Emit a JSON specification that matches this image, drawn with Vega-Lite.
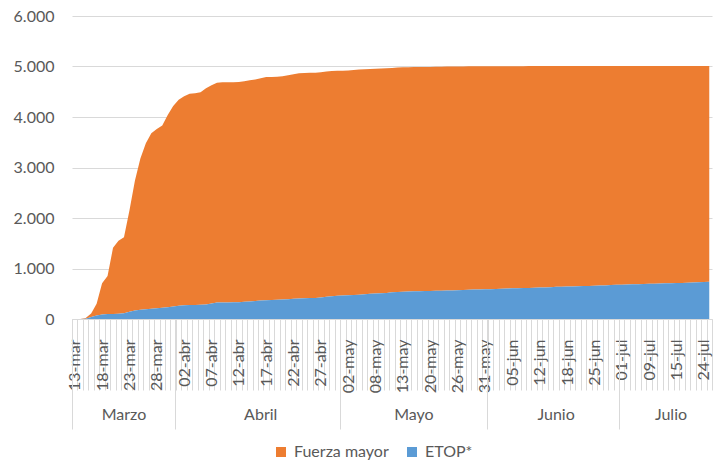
{
  "$schema": "https://vega.github.io/schema/vega-lite/v6.json",
  "width": 640,
  "height": 303,
  "autosize": {"type": "none"},
  "padding": {"left": 72, "top": 16, "right": 1, "bottom": 146},
  "background": "white",
  "data": {"values": [
    {"fecha": "13-mar", "Fuerza mayor": 0, "ETOP*": 0},
    {"fecha": "14-mar", "Fuerza mayor": 0, "ETOP*": 0},
    {"fecha": "15-mar", "Fuerza mayor": 15, "ETOP*": 5},
    {"fecha": "16-mar", "Fuerza mayor": 70, "ETOP*": 40},
    {"fecha": "17-mar", "Fuerza mayor": 230, "ETOP*": 70},
    {"fecha": "18-mar", "Fuerza mayor": 620, "ETOP*": 90},
    {"fecha": "19-mar", "Fuerza mayor": 750, "ETOP*": 100},
    {"fecha": "20-mar", "Fuerza mayor": 1310, "ETOP*": 100},
    {"fecha": "21-mar", "Fuerza mayor": 1445, "ETOP*": 105},
    {"fecha": "22-mar", "Fuerza mayor": 1505, "ETOP*": 115},
    {"fecha": "23-mar", "Fuerza mayor": 2005, "ETOP*": 145},
    {"fecha": "24-mar", "Fuerza mayor": 2570, "ETOP*": 170},
    {"fecha": "25-mar", "Fuerza mayor": 2998, "ETOP*": 182},
    {"fecha": "26-mar", "Fuerza mayor": 3285, "ETOP*": 195},
    {"fecha": "27-mar", "Fuerza mayor": 3475, "ETOP*": 205},
    {"fecha": "28-mar", "Fuerza mayor": 3545, "ETOP*": 215},
    {"fecha": "29-mar", "Fuerza mayor": 3608, "ETOP*": 222},
    {"fecha": "30-mar", "Fuerza mayor": 3805, "ETOP*": 235},
    {"fecha": "31-mar", "Fuerza mayor": 3970, "ETOP*": 250},
    {"fecha": "01-abr", "Fuerza mayor": 4078, "ETOP*": 262},
    {"fecha": "02-abr", "Fuerza mayor": 4138, "ETOP*": 272},
    {"fecha": "03-abr", "Fuerza mayor": 4184, "ETOP*": 276},
    {"fecha": "04-abr", "Fuerza mayor": 4192, "ETOP*": 278},
    {"fecha": "05-abr", "Fuerza mayor": 4209, "ETOP*": 281},
    {"fecha": "06-abr", "Fuerza mayor": 4282, "ETOP*": 288},
    {"fecha": "07-abr", "Fuerza mayor": 4322, "ETOP*": 308},
    {"fecha": "08-abr", "Fuerza mayor": 4355, "ETOP*": 325},
    {"fecha": "09-abr", "Fuerza mayor": 4363, "ETOP*": 327},
    {"fecha": "10-abr", "Fuerza mayor": 4361, "ETOP*": 329},
    {"fecha": "11-abr", "Fuerza mayor": 4359, "ETOP*": 331},
    {"fecha": "12-abr", "Fuerza mayor": 4361, "ETOP*": 334},
    {"fecha": "13-abr", "Fuerza mayor": 4370, "ETOP*": 340},
    {"fecha": "14-abr", "Fuerza mayor": 4384, "ETOP*": 346},
    {"fecha": "15-abr", "Fuerza mayor": 4389, "ETOP*": 356},
    {"fecha": "16-abr", "Fuerza mayor": 4399, "ETOP*": 366},
    {"fecha": "17-abr", "Fuerza mayor": 4418, "ETOP*": 372},
    {"fecha": "18-abr", "Fuerza mayor": 4414, "ETOP*": 378},
    {"fecha": "19-abr", "Fuerza mayor": 4414, "ETOP*": 381},
    {"fecha": "20-abr", "Fuerza mayor": 4419, "ETOP*": 386},
    {"fecha": "21-abr", "Fuerza mayor": 4433, "ETOP*": 392},
    {"fecha": "22-abr", "Fuerza mayor": 4446, "ETOP*": 399},
    {"fecha": "23-abr", "Fuerza mayor": 4459, "ETOP*": 406},
    {"fecha": "24-abr", "Fuerza mayor": 4461, "ETOP*": 411},
    {"fecha": "25-abr", "Fuerza mayor": 4460, "ETOP*": 414},
    {"fecha": "26-abr", "Fuerza mayor": 4458, "ETOP*": 418},
    {"fecha": "27-abr", "Fuerza mayor": 4458, "ETOP*": 427},
    {"fecha": "28-abr", "Fuerza mayor": 4458, "ETOP*": 442},
    {"fecha": "29-abr", "Fuerza mayor": 4458, "ETOP*": 452},
    {"fecha": "30-abr", "Fuerza mayor": 4455, "ETOP*": 460},
    {"fecha": "01-may", "Fuerza mayor": 4454, "ETOP*": 463},
    {"fecha": "02-may", "Fuerza mayor": 4452, "ETOP*": 468},
    {"fecha": "04-may", "Fuerza mayor": 4457, "ETOP*": 473},
    {"fecha": "05-may", "Fuerza mayor": 4459, "ETOP*": 481},
    {"fecha": "06-may", "Fuerza mayor": 4456, "ETOP*": 490},
    {"fecha": "07-may", "Fuerza mayor": 4453, "ETOP*": 499},
    {"fecha": "08-may", "Fuerza mayor": 4452, "ETOP*": 505},
    {"fecha": "09-may", "Fuerza mayor": 4450, "ETOP*": 510},
    {"fecha": "10-may", "Fuerza mayor": 4446, "ETOP*": 517},
    {"fecha": "11-may", "Fuerza mayor": 4444, "ETOP*": 528},
    {"fecha": "12-may", "Fuerza mayor": 4441, "ETOP*": 537},
    {"fecha": "13-may", "Fuerza mayor": 4441, "ETOP*": 542},
    {"fecha": "14-may", "Fuerza mayor": 4441, "ETOP*": 545},
    {"fecha": "15-may", "Fuerza mayor": 4440, "ETOP*": 548},
    {"fecha": "18-may", "Fuerza mayor": 4439, "ETOP*": 551},
    {"fecha": "19-may", "Fuerza mayor": 4438, "ETOP*": 553},
    {"fecha": "20-may", "Fuerza mayor": 4437, "ETOP*": 555},
    {"fecha": "21-may", "Fuerza mayor": 4436, "ETOP*": 557},
    {"fecha": "22-may", "Fuerza mayor": 4434, "ETOP*": 560},
    {"fecha": "23-may", "Fuerza mayor": 4437, "ETOP*": 563},
    {"fecha": "25-may", "Fuerza mayor": 4434, "ETOP*": 566},
    {"fecha": "26-may", "Fuerza mayor": 4432, "ETOP*": 569},
    {"fecha": "27-may", "Fuerza mayor": 4428, "ETOP*": 574},
    {"fecha": "28-may", "Fuerza mayor": 4425, "ETOP*": 578},
    {"fecha": "29-may", "Fuerza mayor": 4421, "ETOP*": 582},
    {"fecha": "30-may", "Fuerza mayor": 4419, "ETOP*": 585},
    {"fecha": "31-may", "Fuerza mayor": 4416, "ETOP*": 588},
    {"fecha": "01-jun", "Fuerza mayor": 4414, "ETOP*": 591},
    {"fecha": "02-jun", "Fuerza mayor": 4409, "ETOP*": 596},
    {"fecha": "03-jun", "Fuerza mayor": 4406, "ETOP*": 600},
    {"fecha": "04-jun", "Fuerza mayor": 4402, "ETOP*": 604},
    {"fecha": "05-jun", "Fuerza mayor": 4400, "ETOP*": 607},
    {"fecha": "08-jun", "Fuerza mayor": 4397, "ETOP*": 610},
    {"fecha": "09-jun", "Fuerza mayor": 4394, "ETOP*": 613},
    {"fecha": "10-jun", "Fuerza mayor": 4392, "ETOP*": 616},
    {"fecha": "11-jun", "Fuerza mayor": 4388, "ETOP*": 620},
    {"fecha": "12-jun", "Fuerza mayor": 4385, "ETOP*": 623},
    {"fecha": "13-jun", "Fuerza mayor": 4382, "ETOP*": 626},
    {"fecha": "15-jun", "Fuerza mayor": 4379, "ETOP*": 630},
    {"fecha": "16-jun", "Fuerza mayor": 4371, "ETOP*": 638},
    {"fecha": "17-jun", "Fuerza mayor": 4368, "ETOP*": 641},
    {"fecha": "18-jun", "Fuerza mayor": 4365, "ETOP*": 644},
    {"fecha": "19-jun", "Fuerza mayor": 4364, "ETOP*": 646},
    {"fecha": "22-jun", "Fuerza mayor": 4361, "ETOP*": 649},
    {"fecha": "23-jun", "Fuerza mayor": 4358, "ETOP*": 652},
    {"fecha": "24-jun", "Fuerza mayor": 4355, "ETOP*": 655},
    {"fecha": "25-jun", "Fuerza mayor": 4352, "ETOP*": 658},
    {"fecha": "26-jun", "Fuerza mayor": 4349, "ETOP*": 661},
    {"fecha": "27-jun", "Fuerza mayor": 4345, "ETOP*": 665},
    {"fecha": "29-jun", "Fuerza mayor": 4338, "ETOP*": 672},
    {"fecha": "30-jun", "Fuerza mayor": 4334, "ETOP*": 676},
    {"fecha": "01-jul", "Fuerza mayor": 4330, "ETOP*": 680},
    {"fecha": "02-jul", "Fuerza mayor": 4327, "ETOP*": 683},
    {"fecha": "06-jul", "Fuerza mayor": 4323, "ETOP*": 687},
    {"fecha": "07-jul", "Fuerza mayor": 4320, "ETOP*": 690},
    {"fecha": "08-jul", "Fuerza mayor": 4316, "ETOP*": 694},
    {"fecha": "09-jul", "Fuerza mayor": 4313, "ETOP*": 697},
    {"fecha": "10-jul", "Fuerza mayor": 4310, "ETOP*": 700},
    {"fecha": "11-jul", "Fuerza mayor": 4307, "ETOP*": 703},
    {"fecha": "13-jul", "Fuerza mayor": 4304, "ETOP*": 706},
    {"fecha": "14-jul", "Fuerza mayor": 4301, "ETOP*": 709},
    {"fecha": "15-jul", "Fuerza mayor": 4298, "ETOP*": 712},
    {"fecha": "16-jul", "Fuerza mayor": 4295, "ETOP*": 715},
    {"fecha": "17-jul", "Fuerza mayor": 4292, "ETOP*": 718},
    {"fecha": "20-jul", "Fuerza mayor": 4288, "ETOP*": 722},
    {"fecha": "23-jul", "Fuerza mayor": 4281, "ETOP*": 729},
    {"fecha": "24-jul", "Fuerza mayor": 4277, "ETOP*": 733},
    {"fecha": "27-jul", "Fuerza mayor": 4274, "ETOP*": 736}
  ]},
  "transform": [{"fold": ["Fuerza mayor", "ETOP*"], "as": ["serie", "valor"]}],
  "layer": [
    {
      "mark": {"type": "area", "interpolate": "linear", "opacity": 1},
      "encoding": {
        "x": {
          "field": "fecha", "type": "ordinal", "sort": null, "bandPosition": 0.5,
          "scale": {"type": "band", "paddingInner": 0, "paddingOuter": 0},
          "axis": {
            "orient": "bottom", "title": null,
            "tickBand": "extent", "ticks": true, "tickSize": 71, "tickColor": "#D9D9D9", "tickWidth": 1,
            "domain": true, "domainColor": "#D9D9D9", "domainWidth": 1,
            "grid": false,
            "labelAngle": 270, "labelAlign": "right", "labelBaseline": "middle", "labelPadding": -51,
            "labelOverlap": false, "labelBound": false, "labelFlush": false,
            "labelFont": "Lato", "labelFontSize": 16, "labelColor": "#595959",
            "labelExpr": "indexof(['13-mar','18-mar','23-mar','28-mar','02-abr','07-abr','12-abr','17-abr','22-abr','27-abr','02-may','08-may','13-may','20-may','26-may','31-may','05-jun','12-jun','18-jun','25-jun','01-jul','09-jul','15-jul','24-jul'], datum.value) >= 0 ? datum.value : ''"
          }
        },
        "y": {
          "field": "valor", "type": "quantitative", "stack": "zero",
          "scale": {"domain": [0, 6000], "nice": false},
          "axis": {
            "title": null, "values": [0, 1000, 2000, 3000, 4000, 5000, 6000],
            "labelExpr": "replace(format(datum.value, ','), ',', '.')",
            "grid": true, "gridColor": "#D9D9D9", "gridWidth": 1,
            "domain": false, "ticks": false, "labelPadding": 18,
            "labelFont": "Lato", "labelFontSize": 16, "labelColor": "#595959"
          }
        },
        "color": {
          "field": "serie", "type": "nominal",
          "scale": {"domain": ["Fuerza mayor", "ETOP*"], "range": ["#ED7D31", "#5B9BD5"]},
          "legend": {
            "title": null, "orient": "none", "legendX": 201, "legendY": 428, "direction": "horizontal",
            "symbolType": "square", "symbolSize": 100, "symbolStrokeWidth": 0, "symbolOpacity": 1,
            "labelFont": "Lato", "labelFontSize": 16, "labelColor": "#595959",
            "columnPadding": 15, "labelOffset": 5, "padding": 0
          }
        },
        "order": {"field": "serie", "sort": "ascending"}
      }
    },
    {
      "mark": {"type": "point", "opacity": 0},
      "encoding": {
        "x": {
          "field": "fecha", "type": "ordinal", "sort": null,
          "scale": {"type": "band", "paddingInner": 0, "paddingOuter": 0},
          "axis": {
            "orient": "bottom", "title": null,
            "values": ["13-mar", "01-abr", "01-may", "01-jun", "01-jul"],
            "bandPosition": 0, "labels": false, "domain": false, "grid": false,
            "ticks": true, "tickSize": 110, "tickColor": "#D9D9D9", "tickWidth": 1
          }
        }
      }
    },
    {
      "mark": {"type": "point", "opacity": 0},
      "encoding": {
        "x": {
          "field": "fecha", "type": "ordinal", "sort": null,
          "scale": {"type": "band", "paddingInner": 0, "paddingOuter": 0},
          "axis": {
            "orient": "bottom", "title": null,
            "values": ["22-mar", "16-abr", "15-may", "16-jun", "14-jul"],
            "ticks": false, "domain": false, "grid": false,
            "labelAngle": 0, "labelAlign": "center", "labelBaseline": "top", "labelPadding": 87,
            "labelOverlap": false, "labelBound": false, "labelFlush": false,
            "labelFont": "Lato", "labelFontSize": 16, "labelColor": "#595959",
            "labelExpr": "datum.value == '22-mar' ? 'Marzo' : datum.value == '16-abr' ? 'Abril' : datum.value == '15-may' ? 'Mayo' : datum.value == '16-jun' ? 'Junio' : 'Julio'"
          }
        }
      }
    }
  ],
  "resolve": {"scale": {"x": "independent"}},
  "config": {
    "view": {"stroke": null},
    "font": "Lato"
  }
}
